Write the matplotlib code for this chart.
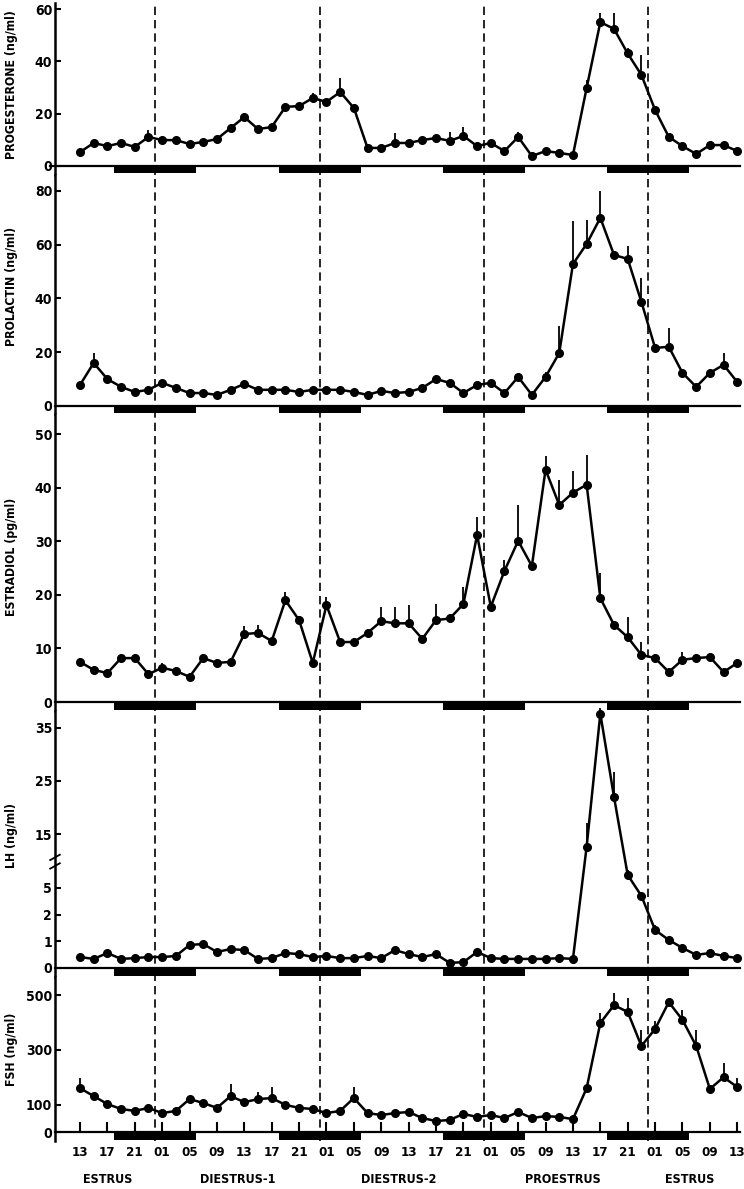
import numpy as np
import matplotlib
matplotlib.use('Agg')
import matplotlib.pyplot as plt
import matplotlib.transforms as mtransforms

plt.rcParams['font.family'] = ['DejaVu Sans']
plt.rcParams['font.stretch'] = 'condensed'
plt.rcParams['font.weight'] = 'bold'

# sampling every 2 h, starting 13:00 of estrus (hour 0)
hours = np.arange(0, 97, 2)
tick_hours = np.arange(0, 97, 4)
tick_labels = ['13', '17', '21', '01', '05', '09'] * 4 + ['13']
midnights = [11, 35, 59, 83]
dark_start = [5, 29, 53, 77]
dark_len = 12
phases = ['ESTRUS', 'DIESTRUS-1', 'DIESTRUS-2', 'PROESTRUS', 'ESTRUS']
phase_x = [4, 23, 46.5, 70.5, 89]

progesterone = [5.3, 8.8, 7.6, 8.8, 7.3, 11.1, 9.9, 9.9, 8.4, 9.2, 10.3, 14.5, 18.7, 14.1, 14.9,
                22.6, 22.9, 26, 24.5, 28.3, 22.2, 6.9, 6.9, 8.8, 8.8, 9.9, 10.7, 9.6, 11.5, 7.6,
                8.8, 5.7, 11.1, 3.8, 5.7, 5.0, 4.2, 29.8, 55, 52.4, 43, 34.8, 21.4, 11.1, 7.6,
                4.6, 8, 8, 5.7]
progesterone_err = [1, 1, 1, 1, 1, 2.7, 1, 1, 1, 1, 1, 1, 1.5, 1, 1, 1, 1, 2, 1, 5.3, 1, 1, 1, 3.8,
                    1, 1, 1, 3.4, 3.5, 1, 1, 1, 2, 1, 1, 1, 1, 3, 3.5, 6, 2, 7.6, 1, 1, 1, 1, 1, 1, 1]

prolactin = [7.8, 16, 10, 7.1, 5.2, 6, 8.6, 6.7, 4.8, 4.8, 4.1, 6, 8.2, 6, 6, 6, 5.2, 6, 6, 6,
             5.2, 4.1, 5.6, 4.8, 5.2, 6.7, 10, 8.6, 4.8, 7.8, 8.6, 4.8, 10.8, 4.1, 10.8, 19.7,
             52.8, 60.3, 70, 56.2, 54.7, 38.7, 21.6, 22, 12.3, 7.1, 12.3, 15.3, 8.9]
prolactin_err = [1, 3.7, 1, 1, 1, 1, 1, 1, 1, 1, 1, 1, 1, 1, 1, 1, 1, 1, 1, 1, 1, 1, 1, 1, 1, 1,
                 1, 1, 1, 1, 1, 1, 1, 1, 2, 10, 16, 9, 10, 1, 5, 9, 1, 7, 1, 1, 1, 4.4, 1]

estradiol = [7.5, 6, 5.4, 8.2, 8.2, 5.2, 6.4, 5.8, 4.7, 8.2, 7.3, 7.5, 12.7, 12.9, 11.4, 19, 15.3,
             7.3, 18.1, 11.2, 11.2, 12.9, 15.1, 14.7, 14.7, 11.8, 15.3, 15.6, 18.3, 31.2, 17.8,
             24.5, 30.1, 25.4, 43.4, 36.8, 39.1, 40.6, 19.4, 14.4, 12.1, 8.8, 8.2, 5.6, 7.9,
             8.2, 8.4, 5.6, 7.3]
estradiol_err = [0.8, 0.8, 0.8, 0.8, 0.8, 0.8, 0.8, 0.8, 0.8, 0.8, 0.8, 0.8, 1.5, 1.5, 0.8, 1.5,
                 0.8, 0.8, 1.5, 0.8, 0.8, 0.8, 2.7, 3, 3.5, 0.8, 3, 0.8, 3.2, 3.4, 0.8, 2, 6.7,
                 0.8, 2.5, 4.7, 4, 5.5, 4.7, 0.8, 3.8, 2.4, 0.8, 0.8, 1.5, 0.8, 0.8, 0.8, 0.8]

lh = [0.41, 0.34, 0.56, 0.34, 0.37, 0.41, 0.41, 0.45, 0.86, 0.9, 0.6, 0.71, 0.67, 0.34, 0.37,
      0.56, 0.52, 0.41, 0.45, 0.37, 0.37, 0.45, 0.37, 0.67, 0.52, 0.41, 0.52, 0.19, 0.22, 0.6,
      0.37, 0.34, 0.34, 0.34, 0.34, 0.37, 0.34, 12.7, 37.6, 22, 7.4, 4.1, 1.42, 1.05, 0.75,
      0.49, 0.56, 0.45, 0.37]
lh_err = [0.05] * 37 + [4.5, 1, 4.7, 1, 0.3, 0.2, 0.05, 0.05, 0.05, 0.05, 0.05, 0.05]

fsh = [160, 131, 102, 84, 77, 88, 69, 77, 120, 106, 88, 131, 109, 120, 124, 99, 88, 84, 69, 77,
       124, 69, 62, 69, 73, 51, 40, 44, 66, 55, 62, 51, 73, 51, 58, 55, 47, 160, 398, 463, 438,
       314, 376, 474, 409, 314, 157, 200, 164]
fsh_err = [37, 10, 10, 10, 10, 10, 10, 10, 10, 10, 10, 44, 10, 25, 40, 10, 10, 10, 10, 10, 40,
           10, 10, 10, 10, 10, 10, 10, 10, 10, 10, 10, 10, 10, 10, 10, 10, 10, 36, 44, 51, 58,
           30, 10, 36, 58, 10, 52, 33]

series = [progesterone, prolactin, estradiol, lh, fsh]
errors = [progesterone_err, prolactin_err, estradiol_err, lh_err, fsh_err]
ylabels = ['PROGESTERONE (ng/ml)', 'PROLACTIN (ng/ml)', 'ESTRADIOL (pg/ml)', 'LH (ng/ml)', 'FSH (ng/ml)']
yticks = [[0, 20, 40, 60], [0, 20, 40, 60, 80], [0, 10, 20, 30, 40, 50],
          [0, 1, 2, 5, 15, 25, 35], [0, 100, 300, 500]]
ylims = [(-3.44, 62.3), (-3.0, 85.95), (-1.68, 53.8), (-0.337, 38.1), (-32.8, 565.7)]
bar_depth = [2.7, 2.6, 1.4, 0.3, 29]
# panel extents in pixels (top, bottom) and y-label centres
panel_px = [(3, 175), (175, 414), (414, 711), (711, 977), (977, 1141)]
label_y = [85, 286, 557, 835, 1049]


def lh_fwd(v):
    v = np.asarray(v, dtype=float)
    return np.where(v < 2, v, np.where(v < 5, 2 + (v - 2) / 3, 3 + (v - 5) / 5))


def lh_inv(u):
    u = np.asarray(u, dtype=float)
    return np.where(u < 2, u, np.where(u < 3, 2 + (u - 2) * 3, 5 + (u - 3) * 5))


W, H = 744, 1189
fig = plt.figure(figsize=(W / 100, H / 100), dpi=100)
axes = []
for k in range(5):
    top, bot = panel_px[k]
    ax = fig.add_axes([55 / W, 1 - bot / H, 685 / W, (bot - top) / H])
    axes.append(ax)
    if k == 3:
        ax.set_yscale('function', functions=(lh_fwd, lh_inv))
    ax.set_xlim(-3.65, 96.4)
    ax.set_ylim(*ylims[k])
    for s in ['top', 'right', 'bottom']:
        ax.spines[s].set_visible(False)
    ax.spines['left'].set_linewidth(1.8)
    ax.set_yticks(yticks[k])
    ax.set_yticklabels([str(t) for t in yticks[k]])
    ax.yaxis.set_minor_locator(matplotlib.ticker.NullLocator())
    ax.tick_params(axis='y', direction='in', length=4, width=1.5, labelsize=10, pad=2)
    ax.axhline(0, color='black', lw=1.6, xmin=-0.008 if k == 0 else 0, clip_on=False)
    for m in midnights:
        ax.axvline(m, color='black', lw=1.2, ls=(0, (5, 3)))
    ax.broken_barh([(d, dark_len) for d in dark_start], (-bar_depth[k], bar_depth[k]),
                   facecolor='black', edgecolor='none')
    ax.errorbar(hours, series[k], yerr=[np.zeros(len(hours)), errors[k]], fmt='none',
                ecolor='black', elinewidth=1.3, capsize=0, clip_on=False)
    ax.plot(hours, series[k], '-o', color='black', lw=1.8, ms=5.5, clip_on=False)
    fig.text(12 / W, 1 - label_y[k] / H, ylabels[k], rotation=90, ha='center', va='center',
             fontsize=8.8, fontweight='bold')
    if k < 4:
        ax.tick_params(axis='x', bottom=False, labelbottom=False)

# axis break mark on the LH scale
ax = axes[3]
blend = mtransforms.blended_transform_factory(ax.transAxes, ax.transData)
for dy in [0, 1.6]:
    ax.plot([-0.007, 0.007], [8.6 + dy, 9.6 + dy], transform=blend, color='black', lw=1.3,
            clip_on=False)

ax = axes[4]
ax.spines['bottom'].set_visible(True)
ax.spines['bottom'].set_position(('data', 0))
ax.spines['bottom'].set_linewidth(0)
ax.set_xticks(tick_hours)
ax.set_xticklabels(tick_labels)
ax.tick_params(axis='x', direction='in', length=7, width=1.5, labelsize=9.5, pad=10)
for name, xp in zip(phases, phase_x):
    ax.text(xp, -175, name, ha='center', va='center', fontsize=9, fontweight='bold')

plt.savefig('out.png', dpi=100)
